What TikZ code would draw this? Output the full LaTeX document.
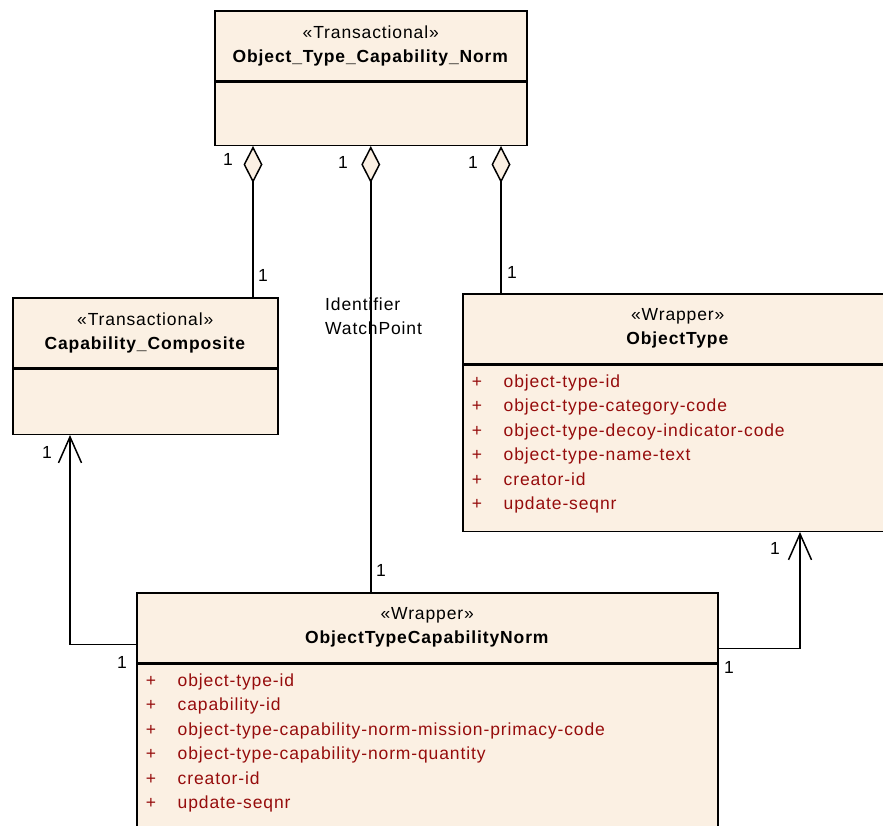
\documentclass[tikz,border=0pt]{standalone}
\usepackage{fontspec}
\setmainfont{Liberation Sans}
\newfontfamily\umlfont{Liberation Sans}[LetterSpace=5]
\usetikzlibrary{arrows.meta, positioning, calc}
\definecolor{ClassFill}{RGB}{251,240,227}
\definecolor{AttrRed}{RGB}{150,12,12}

\newcommand{\attr}[1]{\makebox[32pt][l]{+}#1}

\begin{document}
\begin{tikzpicture}[
    x=1pt, y=-1pt,
    font=\umlfont\fontsize{17.5}{24}\selectfont,
    head/.style={draw, line width=1.5pt, fill=ClassFill, align=center, inner sep=0pt,
        anchor=north west, minimum height=70pt},
    body/.style={draw, line width=1.5pt, fill=ClassFill, align=left, inner xsep=9pt,
        inner ysep=0pt, anchor=north west, text=AttrRed,
        font=\umlfont\fontsize{17.5}{24.5}\selectfont},
    agg/.style={{Diamond[length=37pt, width=19pt, fill=ClassFill]}-, line width=1.5pt},
    nav/.style={-{Straight Barb[length=26pt, width=23pt]}, line width=1.5pt},
    mult/.style={inner sep=0pt},
]
\clip (0,0) rectangle (883,825);

% Object_Type_Capability_Norm
\node[head, minimum width=312pt] (norm) at (214,10)
    {«Transactional»\\\textbf{Object\_Type\_Capability\_Norm}};
\node[body, minimum width=312pt, minimum height=63pt] (normBody) at (norm.south west) {};

% Capability_Composite
\node[head, minimum width=265pt] (cap) at (12,297)
    {«Transactional»\\\textbf{Capability\_Composite}};
\node[body, minimum width=265pt, minimum height=65pt] (capBody) at (cap.south west) {};

% ObjectType (runs past the right edge)
\node[head, minimum width=430pt] (ot) at (462,293)
    {«Wrapper»\\\textbf{ObjectType}};
\node[body, text width=412pt, minimum height=166pt] (otBody) at (ot.south west)
    {\attr{object-type-id}\\
     \attr{object-type-category-code}\\
     \attr{object-type-decoy-indicator-code}\\
     \attr{object-type-name-text}\\
     \attr{creator-id}\\
     \attr{update-seqnr}\rule[-12pt]{0pt}{0pt}};

% ObjectTypeCapabilityNorm (runs past the bottom edge)
\node[head, minimum width=581pt] (otcn) at (136,592)
    {«Wrapper»\\\textbf{ObjectTypeCapabilityNorm}};
\node[body, text width=563pt, minimum height=166pt] (otcnBody) at (otcn.south west)
    {\attr{object-type-id}\\
     \attr{capability-id}\\
     \attr{object-type-capability-norm-mission-primacy-code}\\
     \attr{object-type-capability-norm-quantity}\\
     \attr{creator-id}\\
     \attr{update-seqnr}\rule[-12pt]{0pt}{0pt}};

% role label
\node[mult, align=left, anchor=west] (role) at (325,316) {Identifier\\WatchPoint};

% aggregations
\coordinate (aggL) at ($(normBody.south west)+(39,0)$);
\coordinate (aggR) at ($(normBody.south west)+(287,0)$);
\draw[agg] (aggL) -- (aggL |- cap.north);
\draw[agg] (normBody.south) -- (normBody.south |- otcn.north);
\draw[agg] (aggR) -- (aggR |- ot.north);

% navigable associations
\coordinate (capIn) at ($(capBody.south west)+(58,0)$);
\coordinate (otIn) at ($(otBody.south west)+(338,0)$);
\coordinate (otcnL) at ($(otcn.south west)+(0,-19)$);
\coordinate (otcnR) at ($(otcn.south east)+(0,-15)$);
\draw[nav] (otcnL) -| (capIn);
\draw[nav] (otcnR) -| (otIn);

% multiplicities
\node[mult] (m1) at (228,159) {1};
\node[mult] (m2) at (263,275) {1};
\node[mult] (m3) at (343,162) {1};
\node[mult] (m4) at (381,570) {1};
\node[mult] (m5) at (473,162) {1};
\node[mult] (m6) at (512,272) {1};
\node[mult] (m7) at (47,452) {1};
\node[mult] (m8) at (122,662) {1};
\node[mult] (m9) at (775,548) {1};
\node[mult] (m10) at (729,667) {1};

\end{tikzpicture}
\end{document}
